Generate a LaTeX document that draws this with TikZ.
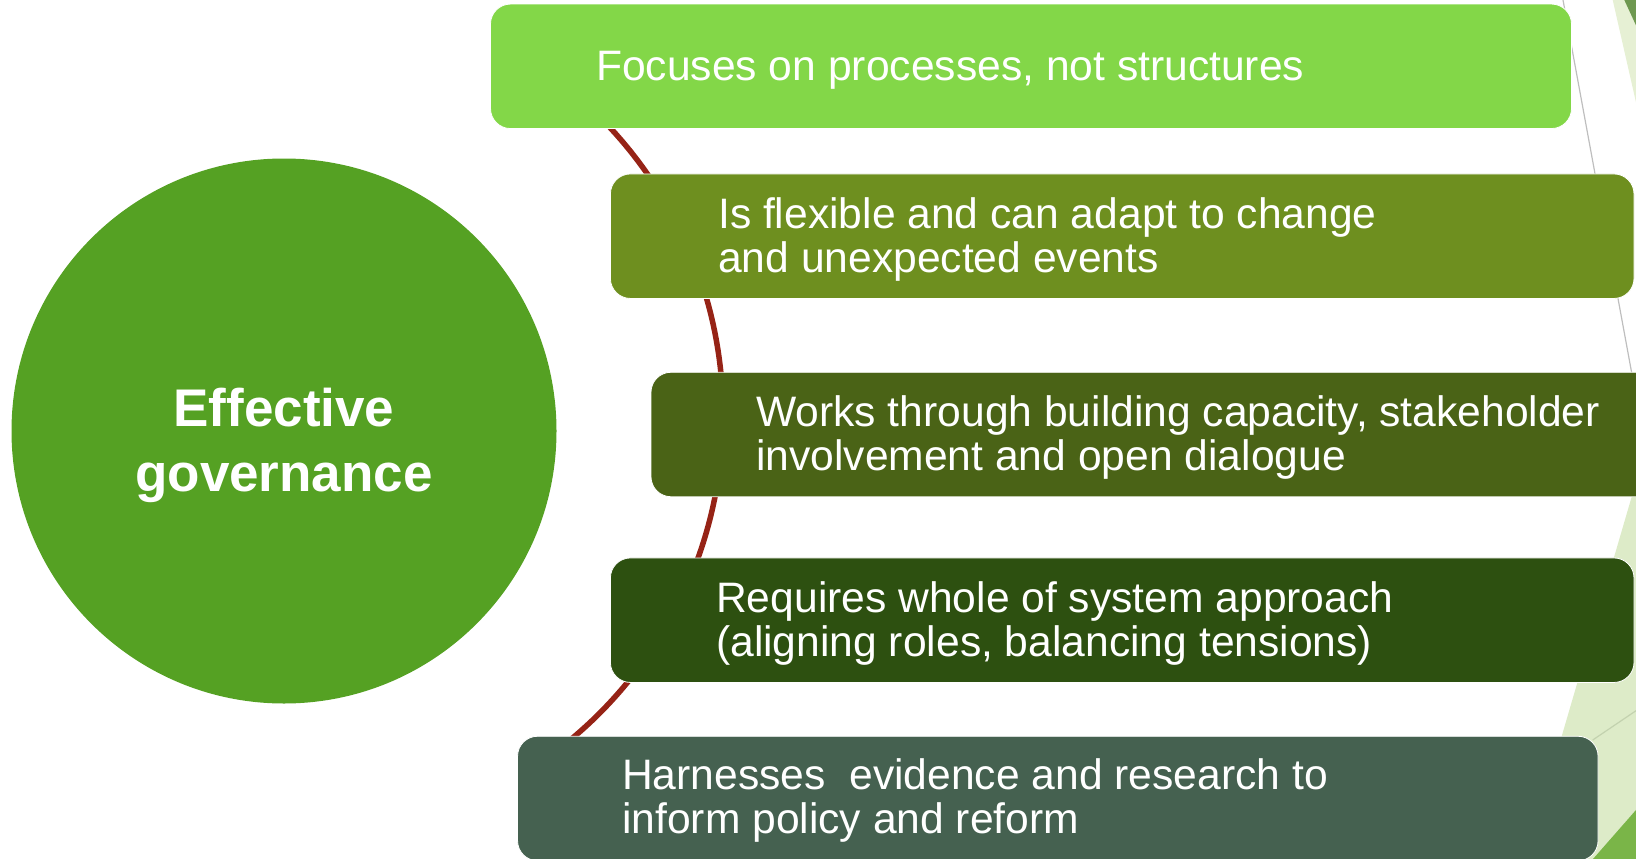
\documentclass[tikz,border=0pt]{standalone}
\usepackage{fontspec}
\setmainfont{Liberation Sans}
\definecolor{govgreen}{RGB}{85,161,35}
\definecolor{cardA}{RGB}{131,215,72}
\definecolor{cardB}{RGB}{110,143,31}
\definecolor{cardC}{RGB}{74,99,22}
\definecolor{cardD}{RGB}{45,80,16}
\definecolor{cardE}{RGB}{69,97,80}
\definecolor{arcred}{RGB}{150,35,22}
\definecolor{paleA}{RGB}{230,240,212}
\definecolor{paleB}{RGB}{221,235,200}
\definecolor{leafdark}{RGB}{110,152,80}
\definecolor{leafmid}{RGB}{122,181,72}
\definecolor{hairgray}{RGB}{190,190,190}
\definecolor{hairgreen}{RGB}{195,210,175}
\begin{document}
\begin{tikzpicture}[x=1pt,y=-1pt,
  card/.style={rounded corners=20pt, draw=white, line width=0.8pt,
    minimum height=124.5pt, inner sep=0pt},
  cardtext/.style={anchor=base west, inner sep=0pt, text=white,
    font=\fontsize{42.6}{44}\selectfont},
  govtext/.style={align=center, inner sep=0pt, text=white,
    font=\fontsize{53}{65}\selectfont\bfseries},
  arcline/.style={draw=arcred, line width=5.5pt},
  ]
\useasboundingbox (0,0) rectangle (1636,859);
\clip (0,0) rectangle (1636,859);

% corner ornaments on the right
\fill[paleA] (1612.7,0) -- (1640,0) -- (1640,120) -- cycle;
\fill[leafdark] (1624.3,0) -- (1640,0) -- (1640,34) -- cycle;
\fill[paleB] (1639.5,470) -- (1525.8,859) -- (1640,859) -- (1640,470) -- cycle;
\fill[leafmid] (1593,859) -- (1640,805.4) -- (1640,859) -- cycle;
\draw[hairgray, line width=1.2pt] (1563,0) -- (1640,418);
\draw[hairgreen, line width=1.2pt] (1592.7,740) -- (1640,708);

% curved spine behind the cards
\coordinate (arcC) at (301,415);
\draw[arcline] (arcC) ++(-55:422) arc[start angle=-55, end angle=55, radius=422];

% cards
\node[card, fill=cardA, minimum width=1081pt]   (b1) at (1031,66.3) {};
\node[card, fill=cardB, minimum width=1023.6pt] (b2) at (1122.2,236.2) {};
\node[card, fill=cardC, minimum width=1009pt]   (b3) at (1155.5,434.5) {};
\node[card, fill=cardD, minimum width=1023.6pt] (b4) at (1122.2,620.2) {};
\node[card, fill=cardE, minimum width=1080.5pt] (b5) at (1057.8,798.5) {};

\node[cardtext] (t1) at (596,80.7) {Focuses on processes, not structures};
\node[cardtext] (t2) at (718,228.7) {\parbox[t]{900pt}{Is flexible and can adapt to change\\and unexpected events}};
\node[cardtext] (t3) at (756,426) {\parbox[t]{900pt}{Works through building capacity, stakeholder\\involvement and open dialogue}};
\node[cardtext] (t4) at (716,612) {\parbox[t]{900pt}{Requires whole of system approach\\(aligning roles, balancing tensions)}};
\node[cardtext] (t5) at (622,789.5) {\parbox[t]{900pt}{Harnesses~ evidence and research to\\inform policy and reform}};

% central circle
\node[circle, fill=govgreen, minimum size=545pt, inner sep=0pt] (gov) at (284,431) {};
\node[govtext] (govlabel) at (284,445.5) {Effective\\governance};
\end{tikzpicture}
\end{document}
